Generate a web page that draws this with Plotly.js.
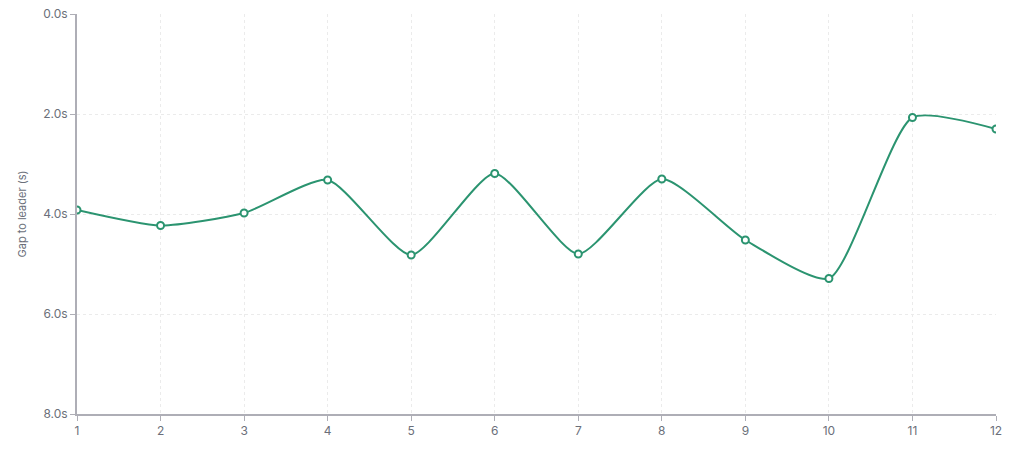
<!DOCTYPE html>
<html><head><meta charset="utf-8">
<script src="https://cdn.plot.ly/plotly-3.0.1.min.js"></script>
<style>html,body{margin:0;padding:0;background:#fff}#c{width:1014px;height:452px}</style>
</head><body><div id="c"></div>
<script>
const laps = [1,2,3,4,5,6,7,8,9,10,11,12];
const gaps = [3.92,4.23,3.98,3.32,4.82,3.19,4.80,3.30,4.52,5.29,2.07,2.30];
const yTicks = [0,2,4,6,8];
const yTickText = ['0.0s','2.0s','4.0s','6.0s','8.0s'];
const green = '#2b9470';
Plotly.newPlot('c', [{
  x: laps, y: gaps, type: 'scatter', mode: 'lines+markers',
  line: {color: green, width: 2, shape: 'spline', smoothing: 0.6},
  marker: {size: 7, color: '#ffffff', line: {color: green, width: 2}},
  hoverinfo: 'x+y'
}], {
  width: 1014, height: 452,
  margin: {l: 77, r: 18, t: 14, b: 38},
  paper_bgcolor: '#fff', plot_bgcolor: '#fff',
  showlegend: false,
  font: {family: 'Inter, "Noto Sans", sans-serif', color: '#6b6f7a', size: 12},
  xaxis: {
    range: [1, 12], tickvals: laps, ticktext: laps.map(String),
    showgrid: true, gridcolor: '#ebebeb', griddash: '3px,3px', gridwidth: 1,
    showline: true, linecolor: '#aeaeb6', linewidth: 2,
    ticks: 'outside', ticklen: 5, tickcolor: '#aeaeb6', tickwidth: 1,
    zeroline: false, tickfont: {size: 12, color: '#6b6f7a'}
  },
  yaxis: {
    range: [8, 0], tickvals: yTicks, ticktext: yTickText,
    showgrid: true, gridcolor: '#ebebeb', griddash: '3px,3px', gridwidth: 1,
    showline: true, linecolor: '#aeaeb6', linewidth: 2,
    ticks: 'outside', ticklen: 5, tickcolor: '#aeaeb6', tickwidth: 1,
    zeroline: false, tickfont: {size: 12, color: '#6b6f7a'},
    title: {text: 'Gap to leader (s)', font: {size: 11, color: '#6b6f7a'}, standoff: 14}
  }
}, {displayModeBar: false, staticPlot: true});
</script></body></html>
